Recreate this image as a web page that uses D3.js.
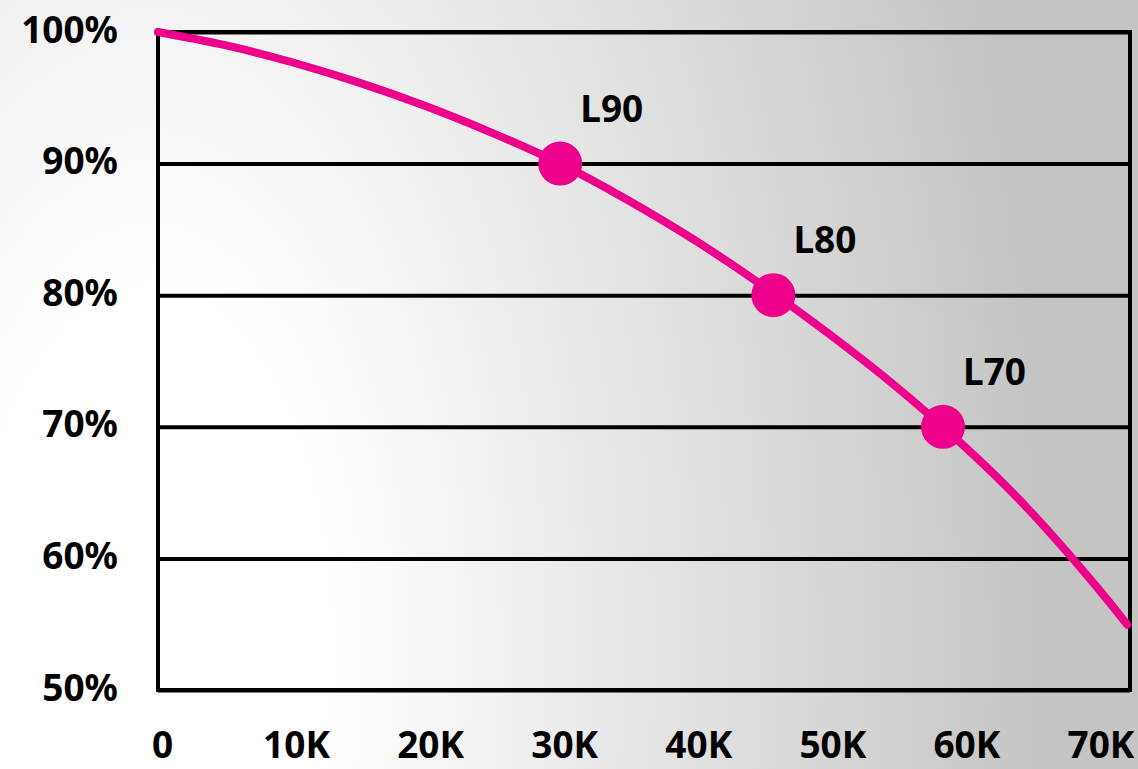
<!DOCTYPE html>
<html>
<head>
<meta charset="utf-8">
<script src="https://cdn.jsdelivr.net/npm/d3@7"></script>
<style>
  html, body { margin: 0; padding: 0; overflow: hidden; }
  text { font-family: "Noto Sans", sans-serif; font-weight: bold; }
</style>
</head>
<body>
<script>
// data
var xTicks = [0, 10000, 20000, 30000, 40000, 50000, 60000, 70000];
var yTicks = [50, 60, 70, 80, 90, 100];
var hours = [0, 5000, 10000, 15000, 20000, 25000, 30000, 35000, 40000, 45000, 50000, 55000, 60000, 65000, 70000, 72300];
var lumen = [100, 99.0, 97.7, 96.15, 94.35, 92.3, 90.0, 87.25, 84.2, 80.8, 77.1, 73.1, 68.65, 63.65, 57.85, 54.95];
var markerNames = ['L90', 'L80', 'L70'];
var markerHours = [30000, 45900, 58550];
var markerLumen = [90, 80, 70];

var W = 1138, H = 769;
var margin = {top: 32, right: 8, bottom: 79, left: 158};
var width = W - margin.left - margin.right;
var height = H - margin.top - margin.bottom;
var pink = '#ec008c';

var root = d3.select('body').append('svg')
  .attr('width', W)
  .attr('height', H);

// background: soft radial, white lower-left to grey right
var grad = root.append('defs').append('radialGradient')
  .attr('id', 'bg')
  .attr('gradientUnits', 'userSpaceOnUse')
  .attr('cx', 150).attr('cy', 650).attr('r', 900)
  .attr('gradientTransform', 'translate(150,650) scale(1,2) translate(-150,-650)');
grad.append('stop').attr('offset', 0.2).attr('stop-color', '#ffffff');
grad.append('stop').attr('offset', 1).attr('stop-color', '#c4c4c4');

root.append('rect')
  .attr('width', W).attr('height', H)
  .attr('fill', 'url(#bg)');

var svg = root.append('g')
  .attr('transform', `translate(${margin.left}, ${margin.top})`);

var xScale = d3.scaleLinear().domain([0, 72500]).range([0, width]);
var yScale = d3.scaleLinear().domain([50, 100]).range([height, 0]);

// gridlines + y labels
var yAxis = svg.append('g')
  .call(d3.axisLeft(yScale).tickValues(yTicks).tickSize(-width).tickFormat(d => d + '%'));
yAxis.select('.domain').remove();
yAxis.selectAll('line').attr('stroke', '#000').attr('stroke-width', 4);
yAxis.selectAll('text')
  .attr('x', -40).attr('dy', 0).attr('y', 10)
  .attr('fill', '#000')
  .style('font-size', '37px');

// frame
svg.append('rect')
  .attr('width', width).attr('height', height)
  .attr('fill', 'none')
  .attr('stroke', '#000')
  .attr('stroke-width', 4);

// x labels (kept just inside the bottom edge)
var xAxis = svg.append('g')
  .attr('transform', `translate(0, ${height})`)
  .call(d3.axisBottom(xScale).tickValues(xTicks).tickSize(0)
    .tickFormat(d => d === 0 ? '0' : (d / 1000) + 'K'));
xAxis.select('.domain').remove();
xAxis.selectAll('text')
  .attr('y', 68).attr('dy', 0).attr('dx', 4)
  .attr('fill', '#000')
  .style('font-size', '37px');

// lumen maintenance curve
var line = d3.line()
  .x((d, i) => xScale(hours[i]))
  .y(d => yScale(d))
  .curve(d3.curveNatural);

svg.append('path')
  .datum(lumen)
  .attr('d', line)
  .attr('fill', 'none')
  .attr('stroke', pink)
  .attr('stroke-width', 8)
  .attr('stroke-linecap', 'round');

// L markers
var marks = svg.selectAll('.mark')
  .data(markerNames)
  .enter()
  .append('g')
  .attr('class', 'mark');

marks.append('circle')
  .attr('cx', (d, i) => xScale(markerHours[i]))
  .attr('cy', (d, i) => yScale(markerLumen[i]))
  .attr('r', 22)
  .attr('fill', pink);

marks.append('text')
  .text(d => d)
  .attr('x', (d, i) => xScale(markerHours[i]) + 20)
  .attr('y', (d, i) => yScale(markerLumen[i]) - 42)
  .attr('fill', '#000')
  .style('font-size', '37px');
</script>
</body>
</html>
